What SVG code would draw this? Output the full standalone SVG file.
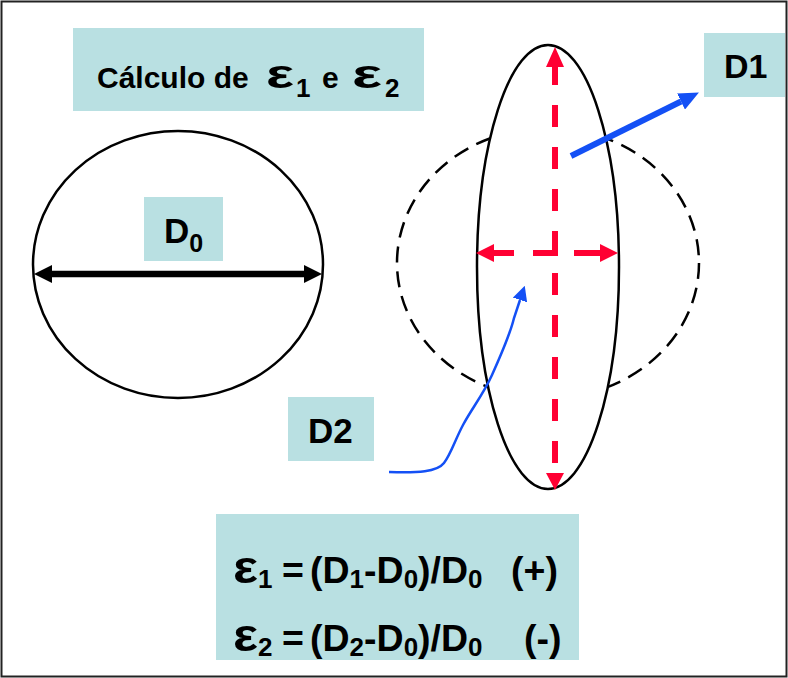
<svg xmlns="http://www.w3.org/2000/svg" width="788" height="678" viewBox="0 0 788 678">
<style>
.box{fill:#b9e0e2;}
.t{font-family:"Liberation Sans",Arial,sans-serif;font-weight:bold;fill:#000;}
.ol{fill:none;stroke:#000;stroke-width:2.5;}
.red{fill:none;stroke:#ff0033;stroke-width:6;}
.redh{fill:#ff0033;}
.blue{fill:none;stroke:#1450f5;}
</style>
<defs>
<marker id="blk" markerUnits="userSpaceOnUse" viewBox="0 0 18 18" refX="0" refY="9" markerWidth="18" markerHeight="18" orient="auto-start-reverse">
<path d="M0,0 L18,9 L0,18 Z" fill="#000"/>
</marker>
<marker id="bh1" markerUnits="userSpaceOnUse" viewBox="0 0 20 18" refX="0" refY="9" markerWidth="20" markerHeight="18" orient="auto">
<path d="M0,0 L20,9 L0,18 Z" fill="#1450f5"/>
</marker>
<marker id="bh2" markerUnits="userSpaceOnUse" viewBox="0 0 15 15" refX="0" refY="7.5" markerWidth="15" markerHeight="15" orient="auto">
<path d="M0,0 L15,7.5 L0,15 Z" fill="#1450f5"/>
</marker>
</defs>
<rect x="0" y="0" width="788" height="678" fill="#fff"/>
<rect x="1.5" y="1.5" width="785" height="675" fill="none" stroke="#222" stroke-width="2"/>

<g id="title">
<rect class="box" x="73" y="28" width="351" height="83"/>
<text class="t" x="97" y="88" font-size="30">Cálculo de</text>
<text class="t" x="266" y="88" font-size="40" textLength="28" lengthAdjust="spacingAndGlyphs">ε</text>
<text class="t" x="296" y="97" font-size="26">1</text>
<text class="t" x="322" y="88" font-size="30">e</text>
<text class="t" x="352" y="88" font-size="40" textLength="30" lengthAdjust="spacingAndGlyphs">ε</text>
<text class="t" x="385" y="97" font-size="26">2</text>
</g>

<g id="circle-d0">
<ellipse class="ol" cx="178" cy="264.5" rx="145" ry="133.5"/>
</g>

<g id="deformed">
<ellipse cx="548" cy="263" rx="151" ry="135" fill="none" stroke="#000" stroke-width="2.5" stroke-dasharray="16 9"/>
<ellipse cx="548" cy="267" rx="71" ry="222" fill="#fff" stroke="#000" stroke-width="2.5"/>
</g>

<g id="label-d0">
<rect class="box" x="144" y="197" width="79" height="64"/>
<text class="t" x="164" y="243" font-size="35">D<tspan font-size="25" dy="9">0</tspan></text>
</g>

<g id="label-d1">
<rect class="box" x="704" y="33" width="81" height="64"/>
<text class="t" x="724" y="78" font-size="34">D1</text>
</g>

<g id="label-d2">
<rect class="box" x="288" y="397" width="86" height="64"/>
<text class="t" x="308" y="443" font-size="35">D2</text>
</g>

<g id="formulas">
<rect class="box" x="216" y="514" width="363" height="146"/>
<text class="t" x="233" y="583" font-size="46" textLength="25" lengthAdjust="spacingAndGlyphs">ε</text>
<text class="t" x="258" y="588" font-size="26">1</text>
<text class="t" x="282" y="583" font-size="37.5">=</text>
<text class="t" x="310" y="583" font-size="37.5">(D<tspan font-size="26" dy="5">1</tspan><tspan dy="-5">-D</tspan><tspan font-size="26" dy="5">0</tspan><tspan dy="-5">)/D</tspan><tspan font-size="26" dy="5">0</tspan></text>
<text class="t" x="511" y="583" font-size="37.5">(+)</text>
<text class="t" x="233" y="651" font-size="46" textLength="25" lengthAdjust="spacingAndGlyphs">ε</text>
<text class="t" x="258" y="656" font-size="26">2</text>
<text class="t" x="282" y="651" font-size="37.5">=</text>
<text class="t" x="310" y="651" font-size="37.5">(D<tspan font-size="26" dy="5">2</tspan><tspan dy="-5">-D</tspan><tspan font-size="26" dy="5">0</tspan><tspan dy="-5">)/D</tspan><tspan font-size="26" dy="5">0</tspan></text>
<text class="t" x="524" y="651" font-size="37.5">(-)</text>
</g>

<g id="connectors">
<line x1="52" y1="274" x2="304" y2="274" stroke="#000" stroke-width="6.5" marker-start="url(#blk)" marker-end="url(#blk)"/>
<path class="red" d="M555,63 V85 M555,105 V127 M555,147 V169 M555,189 V211 M555,231 V256 M555,273 V295 M555,315 V337 M555,357 V379 M555,399 V421 M555,441 V463"/>
<path class="red" d="M493,253 H514 M533,253 H558 M574,253 H600"/>
<path class="redh" d="M555,47 L564,67 L546,67 Z M555,490 L564,473 L546,473 Z M476,253 L494,244 L494,262 Z M618,253 L600,244 L600,262 Z"/>
<line class="blue" x1="571" y1="156" x2="681" y2="101.5" stroke-width="6" marker-end="url(#bh1)"/>
<path class="blue" stroke-width="2.5" d="M389,472 C418,473 437,472 444,463 C451,454 455,440 463,425 C472,408 483,395 492,375 C501,355 510,335 514,318 L520,300" marker-end="url(#bh2)"/>
</g>
</svg>
